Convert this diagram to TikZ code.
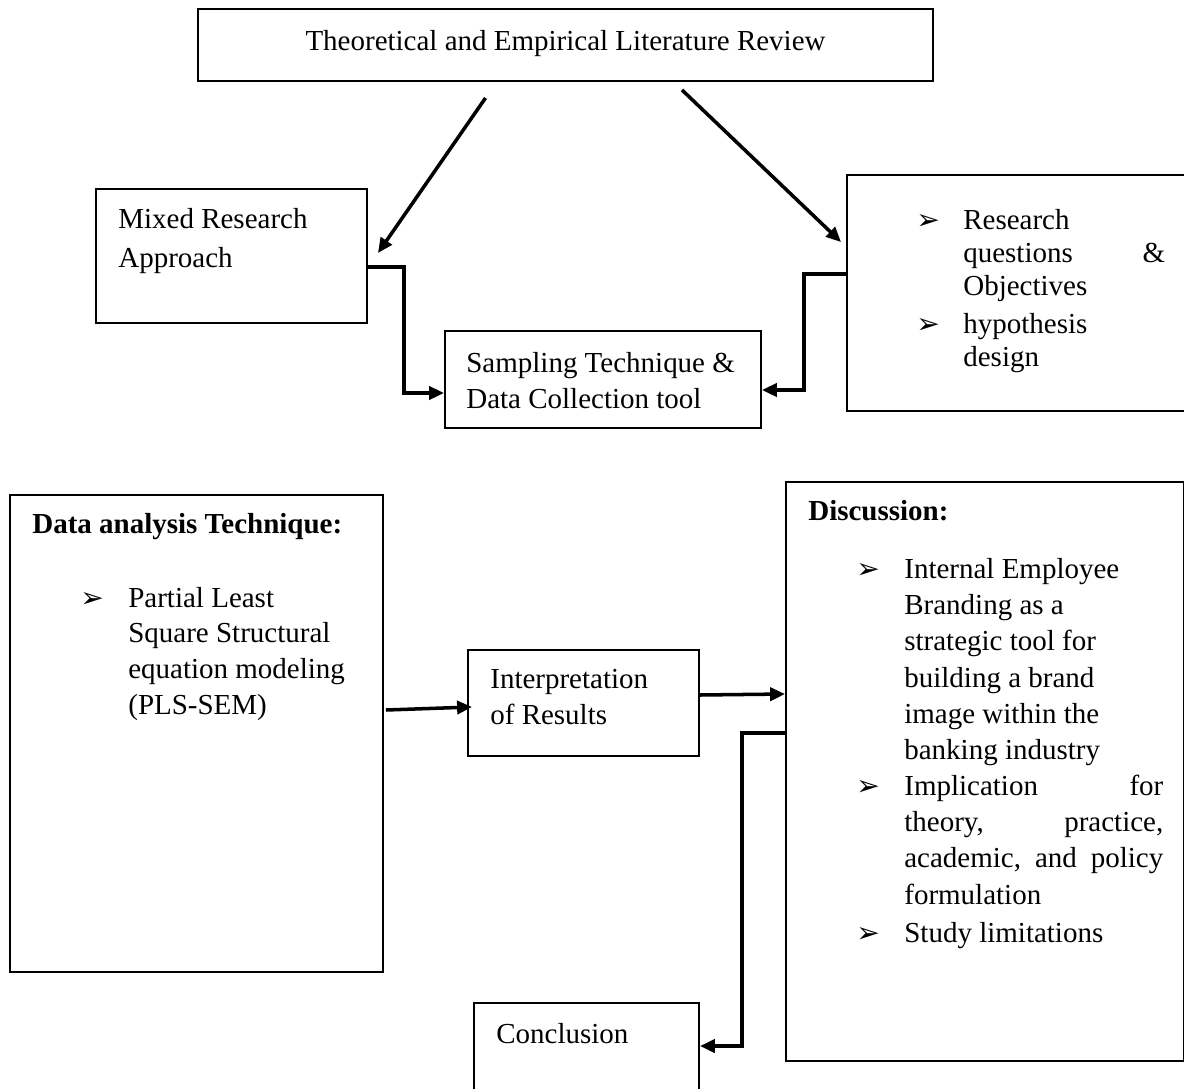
\documentclass[tikz,border=0pt]{standalone}
\usepackage{fontspec}
\setmainfont{Liberation Serif}
\newfontfamily\dingfont{DejaVu Sans}
\usetikzlibrary{arrows.meta,fit}

\begin{document}
\begin{tikzpicture}[x=0.02cm,y=-0.02cm,
  box/.style={draw,line width=1.1pt,inner sep=0pt},
  conn/.style={line width=2pt,-{Triangle[length=8.5pt,width=7.5pt]}},
  txt/.style={inner sep=0pt,anchor=base west,align=flush left,text width=7cm,font=\fontsize{16.5}{#1}\selectfont},
  txt/.default=20.7pt,
  bul/.style={inner sep=0pt,anchor=base west,font=\dingfont\fontsize{16}{16}\selectfont}]
\clip (0,0) rectangle (1184,1089);
% boxes
\node[box,fit={(198,9) (933,81)}] (lit) {};
\node[box,fit={(96,189) (367,323)}] (mixed) {};
\node[box,fit={(445,331) (761,428)}] (samp) {};
\node[box,fit={(847,175) (1187,411)}] (rq) {};
\node[box,fit={(10,495) (383,972)}] (data) {};
\node[box,fit={(468,650) (699,756)}] (interp) {};
\node[box,fit={(786,482) (1183.5,1061)}] (disc) {};
\node[box,fit={(474,1003) (699,1100)}] (concl) {};
% texts
\node[inner sep=0pt,anchor=base,font=\fontsize{16.5}{20}\selectfont] (littext) at (565.5,50) {Theoretical and Empirical Literature Review};
\node[txt=22.7pt] (mixedtext) at (118,228) {Mixed Research\\Approach};
\node[txt=21pt] (samptext) at (466,372) {Sampling Technique \&\\Data Collection tool};
\node[bul] (rqbul1) at (916,229) {➢};
\node[txt=19pt,text width=4.04cm] (rqtext1) at (963,229) {Research\\questions\hfill\&\\Objectives};
\node[bul] (rqbul2) at (916,333) {➢};
\node[txt=19pt] (rqtext2) at (963,333) {hypothesis\\design};
\node[txt] (datahead) at (32,533) {\textbf{Data analysis Technique:}};
\node[bul] (databul) at (80,607) {➢};
\node[txt=20.4pt] (datatext) at (128,607) {Partial Least\\Square Structural\\equation modeling\\(PLS-SEM)};
\node[txt=21pt] (interptext) at (490,688) {Interpretation\\of Results};
\node[txt] (dischead) at (808,520) {\textbf{Discussion:}};
\node[bul] (discbul1) at (856,578) {➢};
\node[txt=20.7pt,text width=5.18cm] (disctext1) at (904,578) {Internal Employee\\Branding as a\\strategic tool for\\building a brand\\image within the\\banking industry};
\node[bul] (discbul2) at (856,795) {➢};
\node[txt=20.7pt,text width=5.18cm] (disctext2) at (904,795) {Implication\hfill for\\theory,\hfill practice,\\academic,\hfill and\hfill policy\\formulation};
\node[bul] (discbul3) at (856,942) {➢};
\node[txt] (disctext3) at (904,942) {Study limitations};
\node[txt] (concltext) at (496,1043) {Conclusion};
% connectors
\draw[conn] ([shift={(-80,16)}]lit.south) -- ([shift={(10,-3)}]mixed.east);
\draw[conn] ([shift={(116.5,8)}]lit.south) -- ([shift={(-5,-51)}]rq.west);
\draw[conn] ([shift={(0,11)}]mixed.east) -- ++(36,0) |- ([shift={(0,13.5)}]samp.west);
\draw[conn] ([shift={(0,-19)}]rq.west) -- ++(-42,0) |- ([shift={(0,10.5)}]samp.east);
\draw[conn] ([shift={(2,-23.5)}]data.east) -- ([shift={(5,4)}]interp.west);
\draw[conn] ([shift={(0,-8)}]interp.east) -- ([shift={(0,-77.5)}]disc.west);
\draw[conn] ([shift={(0,-38.5)}]disc.west) -- ++(-43,0) |- ([shift={(0,44)}]concl.north east);
\end{tikzpicture}
\end{document}
